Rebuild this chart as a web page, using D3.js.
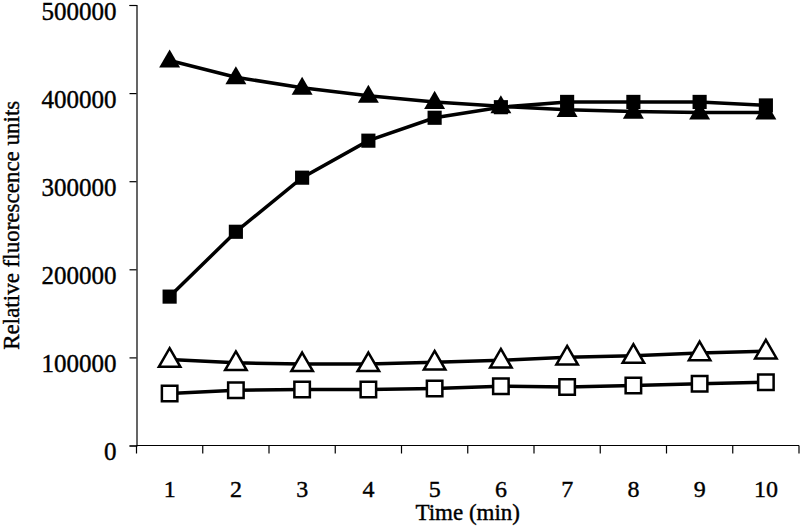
<!DOCTYPE html>
<html>
<head>
<meta charset="utf-8">
<script src="https://cdn.jsdelivr.net/npm/d3@7"></script>
<style>
  html, body { margin: 0; padding: 0; background: #fff; }
  svg { display: block; }
  text { font-family: "Liberation Serif", "Times New Roman", serif; fill: #000; }
</style>
</head>
<body>
<svg id="chart" width="800" height="527"></svg>
<script>
// ---- data ----
const categories = ["1","2","3","4","5","6","7","8","9","10"];
const filledTriangles = [437000, 418000, 406000, 397000, 390000, 385000, 381000, 379000, 378000, 378000];
const filledSquares   = [169000, 242600, 304000, 346000, 372000, 384000, 390000, 390000, 390000, 386000];
const openTriangles   = [97500, 93800, 92600, 92600, 94400, 96700, 100100, 102000, 105000, 107000];
const openSquares     = [59000, 62700, 63500, 63500, 64600, 67200, 66500, 68000, 70000, 71800];
const yTicks = [0, 100000, 200000, 300000, 400000, 500000];
const xTitle = "Time (min)";
const yTitle = "Relative fluorescence units";

// ---- layout ----
const svg = d3.select("#chart");
const mLeft = 136.5, mRight = 799, mTop = 5, mBottom = 445.5;

const x = d3.scaleBand().domain(categories).range([mLeft, mRight]).padding(0);
const y = d3.scaleLinear().domain([0, 500000]).range([mBottom, mTop]);

// y axis
const yAxis = svg.append("g").attr("transform", `translate(${mLeft},0)`)
  .call(d3.axisLeft(y).tickValues(yTicks).tickFormat(d3.format("d")).tickSize(7).tickPadding(13));
yAxis.attr("font-family", null).attr("font-size", null);
yAxis.select(".domain").attr("stroke", "#000").attr("stroke-width", 1.2);
yAxis.selectAll(".tick line").attr("stroke", "#000").attr("stroke-width", 1.2);
yAxis.selectAll(".tick text")
  .attr("font-family", "Liberation Serif, serif")
  .style("font-size", "25px").attr("fill", "#000").attr("dy", "14px")
  .attr("stroke", "#000").attr("stroke-width", 0.4);

// x axis: boundary ticks (category axis)
const xAxisG = svg.append("g");
xAxisG.append("line").attr("x1", mLeft).attr("x2", mRight).attr("y1", mBottom).attr("y2", mBottom)
  .attr("stroke", "#000").attr("stroke-width", 1.2);
const boundaries = categories.map(c => x(c)).concat([x(categories[categories.length - 1]) + x.bandwidth()]);
xAxisG.selectAll("line.tk").data(boundaries).enter().append("line")
  .attr("class", "tk")
  .attr("x1", d => d).attr("x2", d => d).attr("y1", mBottom).attr("y2", mBottom + 8)
  .attr("stroke", "#000").attr("stroke-width", 1.2);
xAxisG.selectAll("text").data(categories).enter().append("text")
  .attr("x", d => x(d) + x.bandwidth() / 2).attr("y", 497)
  .attr("text-anchor", "middle").style("font-size", "24px")
  .attr("stroke", "#000").attr("stroke-width", 0.4).text(d => d);

// titles
svg.append("text").attr("x", (mLeft + mRight) / 2).attr("y", 520)
  .attr("text-anchor", "middle").style("font-size", "23px")
  .attr("stroke", "#000").attr("stroke-width", 0.4).text(xTitle);
svg.append("text").attr("transform", `translate(19,${(mTop + mBottom) / 2}) rotate(-90)`)
  .attr("text-anchor", "middle").style("font-size", "23px")
  .attr("stroke", "#000").attr("stroke-width", 0.4).text(yTitle);

// ---- series ----
const cx = i => x(categories[i]) + x.bandwidth() / 2;
const line = d3.line().x((d, i) => cx(i)).y(d => y(d));

const series = [
  { values: openSquares, shape: d3.symbolSquare, size: 240, fill: "#fff" },
  { values: openTriangles, shape: d3.symbolTriangle, size: 200, fill: "#fff" },
  { values: filledTriangles, shape: d3.symbolTriangle, size: 190, fill: "#000" },
  { values: filledSquares, shape: d3.symbolSquare, size: 200, fill: "#000" }
];

series.forEach(s => {
  svg.append("path").datum(s.values).attr("d", line)
    .attr("fill", "none").attr("stroke", "#000").attr("stroke-width", 3.5);
});
series.forEach(s => {
  const sym = d3.symbol().type(s.shape).size(s.size);
  svg.append("g").selectAll("path").data(s.values).enter().append("path")
    .attr("d", sym)
    .attr("transform", (d, i) => `translate(${cx(i)},${y(d) + (s.shape === d3.symbolTriangle ? 1 : 0)})`)
    .attr("fill", s.fill).attr("stroke", "#000").attr("stroke-width", s.fill === "#fff" ? 2.5 : 0);
});
</script>
</body>
</html>
